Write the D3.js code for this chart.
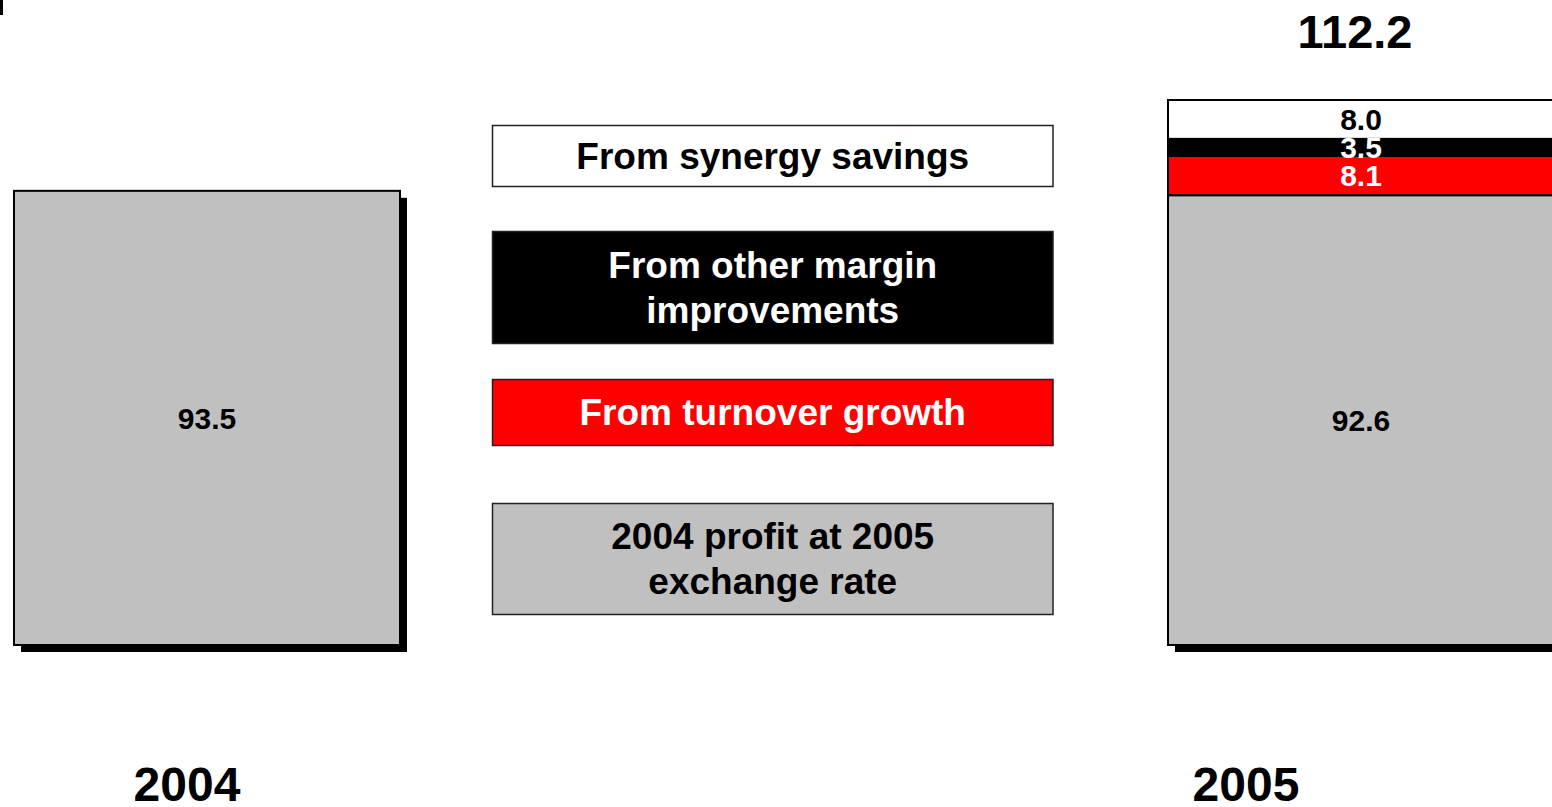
<!DOCTYPE html>
<html>
<head>
<meta charset="utf-8">
<script src="https://cdn.jsdelivr.net/npm/d3@7/dist/d3.min.js"></script>
<style>
  html, body { margin: 0; padding: 0; background: #fff; overflow: hidden; }
  svg { display: block; }
  text { font-family: "Liberation Sans", Arial, sans-serif; font-weight: bold; }
</style>
</head>
<body>
<svg id="chart" width="1552" height="807"></svg>
<script>
// ---- data ----
const categories = ["2004", "2005"];
const baseValues = [93.5, 92.6];            // 2004 profit (at 2005 exchange rate for 2005 bar)
const seriesNames = ["From turnover growth", "From other margin improvements", "From synergy savings"];
const turnoverGrowth = [0, 8.1];
const otherMargin = [0, 3.5];
const synergySavings = [0, 8.0];
const totalLabels = ["", "112.2"];
const legendLabels = [
  ["From synergy savings"],
  ["From other margin", "improvements"],
  ["From turnover growth"],
  ["2004 profit at 2005", "exchange rate"]
];

// ---- layout / style ----
const W = 1552, H = 807;
const svg = d3.select("#chart");
const colors = { base: "#c0c0c0", turnover: "#ff0000", other: "#000000", synergy: "#ffffff" };

const y = d3.scaleLinear().domain([0, 112.2]).range([645, 100]);
const x = d3.scaleBand().domain(categories).range([14, 1554]).paddingInner(768 / 1154).paddingOuter(0);
const xLabel = d3.scalePoint().domain(categories).range([187, 1246]);

// tiny mark in top-left corner
svg.append("rect").attr("x", 0).attr("y", 0).attr("width", 3).attr("height", 15).attr("fill", "#000");

// stacked data
const stackRows = categories.map((c, i) => ({
  cat: c, base: baseValues[i], turnover: turnoverGrowth[i], other: otherMargin[i], synergy: synergySavings[i]
}));
const keys = ["base", "turnover", "other", "synergy"];
const stacked = d3.stack().keys(keys)(stackRows);

// shadows
const shadowOff = 7;
svg.append("g").selectAll("rect").data(stackRows).join("rect")
  .attr("x", d => x(d.cat) + shadowOff)
  .attr("y", d => y(d.base + d.turnover + d.other + d.synergy) + shadowOff)
  .attr("width", x.bandwidth())
  .attr("height", d => y(0) - y(d.base + d.turnover + d.other + d.synergy))
  .attr("fill", "#000");

// segments
const segG = svg.append("g");
stacked.forEach(layer => {
  segG.append("g").selectAll("rect").data(layer.filter(d => d[1] - d[0] > 0)).join("rect")
    .attr("x", d => x(d.data.cat))
    .attr("y", d => y(d[1]))
    .attr("width", x.bandwidth())
    .attr("height", d => y(d[0]) - y(d[1]))
    .attr("fill", colors[layer.key])
    .attr("stroke", "#000")
    .attr("stroke-width", 2);
});

// segment value labels
const labelStyle = {
  base: { fill: "#000", size: 30 },
  turnover: { fill: "#fff", size: 30 },
  other: { fill: "#fff", size: 30 },
  synergy: { fill: "#000", size: 30 }
};
stacked.forEach(layer => {
  svg.append("g").selectAll("text").data(layer.filter(d => d[1] - d[0] > 0)).join("text")
    .attr("x", d => x(d.data.cat) + x.bandwidth() / 2)
    .attr("y", d => (y(d[0]) + y(d[1])) / 2)
    .attr("dy", "0.36em")
    .attr("text-anchor", "middle")
    .attr("font-size", labelStyle[layer.key].size)
    .attr("fill", labelStyle[layer.key].fill)
    .text(d => (d[1] - d[0]).toFixed(1));
});

// totals
svg.append("g").selectAll("text").data(stackRows.filter((d, i) => totalLabels[i])).join("text")
  .attr("x", d => x(d.cat) + x.bandwidth() / 2 - 6)
  .attr("y", 48)
  .attr("text-anchor", "middle")
  .attr("font-size", 47)
  .attr("fill", "#000")
  .text(d => totalLabels[categories.indexOf(d.cat)]);

// category labels
svg.append("g").selectAll("text").data(categories).join("text")
  .attr("x", d => xLabel(d))
  .attr("y", 801)
  .attr("text-anchor", "middle")
  .attr("font-size", 48)
  .attr("fill", "#000")
  .text(d => d);

// legend boxes
const legendBoxes = [
  { y0: 125, y1: 186, fill: colors.synergy, text: "#000" },
  { y0: 231, y1: 343, fill: colors.other, text: "#fff" },
  { y0: 379, y1: 445, fill: colors.turnover, text: "#fff" },
  { y0: 503, y1: 614, fill: colors.base, text: "#000" }
];
const lx0 = 492.5, lx1 = 1053;
const lg = svg.append("g").selectAll("g").data(legendLabels).join("g");
lg.append("rect")
  .attr("x", lx0)
  .attr("y", (d, i) => legendBoxes[i].y0 + 0.5)
  .attr("width", lx1 - lx0)
  .attr("height", (d, i) => legendBoxes[i].y1 - legendBoxes[i].y0)
  .attr("fill", (d, i) => legendBoxes[i].fill)
  .attr("stroke", "#222")
  .attr("stroke-width", 1.5);
lg.each(function(lines, i) {
  const b = legendBoxes[i];
  const cy = (b.y0 + b.y1) / 2;
  const lh = 45;
  const startY = cy - (lines.length - 1) * lh / 2;
  d3.select(this).selectAll("text").data(lines).join("text")
    .attr("x", (lx0 + lx1) / 2)
    .attr("y", (d, j) => startY + j * lh)
    .attr("dy", "0.36em")
    .attr("text-anchor", "middle")
    .attr("font-size", 37)
    .attr("fill", b.text)
    .text(d => d);
});
</script>
</body>
</html>
